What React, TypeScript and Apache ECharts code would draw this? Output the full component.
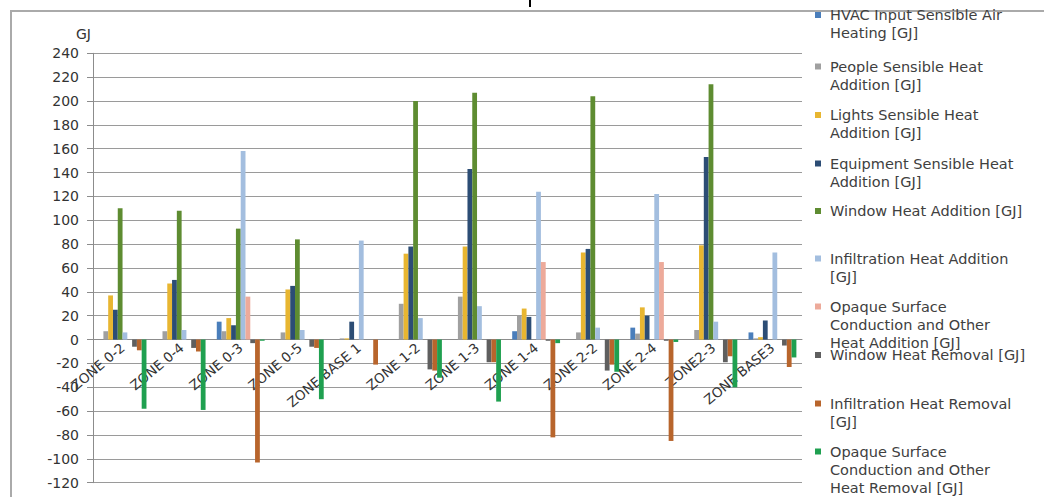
import React, { useEffect, useRef } from "react";
import * as echarts from "echarts";

const categories = [
  "ZONE 0-2", "ZONE 0-4", "ZONE 0-3", "ZONE 0-5", "ZONE BASE 1", "ZONE 1-2",
  "ZONE 1-3", "ZONE 1-4", "ZONE 2-2", "ZONE 2-4", "ZONE2-3", "ZONE BASE3",
];

const hvacHeating = [0, 0, 15, 0, 0, 0, 0, 7, 0, 10, 0, 6];
const peopleHeat = [7, 7, 7, 6, 1, 30, 36, 20, 6, 5, 8, 1];
const lightsHeat = [37, 47, 18, 42, 1, 72, 78, 26, 73, 27, 79, 2];
const equipmentHeat = [25, 50, 12, 45, 15, 78, 143, 19, 76, 20, 153, 16];
const windowAddition = [110, 108, 93, 84, 0, 200, 207, 0, 204, 0, 214, 0];
const infiltrationAddition = [6, 8, 158, 8, 83, 18, 28, 124, 10, 122, 15, 73];
const opaqueAddition = [0, 0, 36, 0, 0, 0, 0, 65, 0, 65, 0, 0];
const windowRemoval = [-6, -7, -3, -6, 0, -25, -19, -1, -26, -1, -19, -5];
const infiltrationRemoval = [-9, -10, -103, -7, -21, -26, -19, -82, -21, -85, -14, -23];
const opaqueRemoval = [-58, -59, -1, -50, 0, -32, -52, -3, -27, -2, -40, -15];

const seriesNames = [
  "HVAC Input Sensible Air Heating [GJ]",
  "People Sensible Heat Addition [GJ]",
  "Lights Sensible Heat Addition [GJ]",
  "Equipment Sensible Heat Addition [GJ]",
  "Window Heat Addition [GJ]",
  "Infiltration Heat Addition [GJ]",
  "Opaque Surface Conduction and Other Heat Addition [GJ]",
  "Window Heat Removal [GJ]",
  "Infiltration Heat Removal [GJ]",
  "Opaque Surface Conduction and Other Heat Removal [GJ]",
];

const legendLabels = [
  "HVAC Input Sensible Air\nHeating [GJ]",
  "People Sensible Heat\nAddition [GJ]",
  "Lights Sensible Heat\nAddition [GJ]",
  "Equipment Sensible Heat\nAddition [GJ]",
  "Window Heat Addition [GJ]",
  "Infiltration Heat Addition\n[GJ]",
  "Opaque Surface\nConduction and Other\nHeat Addition [GJ]",
  "Window Heat Removal [GJ]",
  "Infiltration Heat Removal\n[GJ]",
  "Opaque Surface\nConduction and Other\nHeat Removal [GJ]",
];

const seriesValues = [
  hvacHeating, peopleHeat, lightsHeat, equipmentHeat, windowAddition,
  infiltrationAddition, opaqueAddition, windowRemoval, infiltrationRemoval, opaqueRemoval,
];

const seriesColors = [
  "#4A7EBB", "#A0A0A0", "#E8B631", "#2C4D75", "#5E8C31",
  "#A3BEDF", "#EDAA9A", "#5F5F5F", "#B8652C", "#1FA050",
];

const FONT = "DejaVu Sans";
const LINE_H = 18;
const legendCenters = [15, 66.5, 115, 163.5, 211, 258.5, 306.5, 355, 403.5, 451.5];

const GRID_TOP = 53.3;
const GRID_BOTTOM = 14.3;
const Y_MIN = -120;
const Y_MAX = 240;

export default function App() {
  const ref = useRef<HTMLDivElement>(null);

  useEffect(() => {
    if (!ref.current) return;
    const chart = echarts.init(ref.current, undefined, { renderer: "svg" });

    const legends = seriesNames.map((name, i) => {
      const n = legendLabels[i].split("\n").length;
      const lead = "\n".repeat(n - 1);
      return {
        data: [name],
        orient: "vertical",
        left: 815,
        top: legendCenters[i] - ((2 * n - 1) * LINE_H) / 2,
        padding: 0,
        itemWidth: 6,
        itemHeight: 6,
        icon: "rect",
        selectedMode: false,
        formatter: () => lead + legendLabels[i],
        textStyle: {
          fontFamily: FONT,
          fontSize: 14.5,
          color: "#404040",
          lineHeight: LINE_H,
          padding: [0, 0, 0, 4],
        },
      };
    });

    // shift the category axis up to the zero line of the value axis
    const plotH = 497 - GRID_TOP - GRID_BOTTOM;
    const zeroOffset = (plotH * (0 - Y_MIN)) / (Y_MAX - Y_MIN);

    chart.setOption({
      animation: false,
      backgroundColor: "#ffffff",
      textStyle: { fontFamily: FONT },
      legend: legends,
      grid: {
        left: 93,
        right: 242,
        top: GRID_TOP,
        bottom: GRID_BOTTOM,
        containLabel: false,
        outerBoundsMode: "none",
      },
      xAxis: {
        type: "category",
        data: categories,
        offset: -zeroOffset,
        axisLine: { onZero: false, lineStyle: { color: "#8c8c8c", width: 1 } },
        axisTick: { show: false },
        axisLabel: {
          interval: 0,
          rotate: 40,
          margin: 6,
          fontFamily: FONT,
          fontSize: 13.5,
          color: "#333333",
        },
        splitLine: { show: false },
      },
      yAxis: {
        type: "value",
        min: Y_MIN,
        max: Y_MAX,
        interval: 20,
        name: "GJ",
        nameLocation: "end",
        nameGap: 12,
        nameTextStyle: {
          fontFamily: FONT,
          fontSize: 14,
          color: "#333333",
          align: "right",
          padding: [0, 2, 0, 0],
        },
        axisLine: { show: true, lineStyle: { color: "#8c8c8c", width: 1 } },
        axisTick: { show: true, length: 6, lineStyle: { color: "#8c8c8c" } },
        axisLabel: {
          margin: 14,
          fontFamily: FONT,
          fontSize: 14,
          color: "#333333",
        },
        splitLine: { show: true, lineStyle: { color: "#9a9a9a", width: 1 } },
      },
      graphic: [
        {
          type: "rect",
          silent: true,
          z: -10,
          shape: { x: 11, y: 11, width: 1200, height: 700 },
          style: { fill: "none", stroke: "#aaaaaa", lineWidth: 2 },
        },
        {
          type: "line",
          silent: true,
          shape: { x1: 530, y1: 0, x2: 530, y2: 7 },
          style: { stroke: "#000000", lineWidth: 2 },
        },
      ],
      series: seriesNames.map((name, i) => ({
        name,
        type: "bar",
        data: seriesValues[i],
        barGap: "0%",
        barCategoryGap: "19%",
        itemStyle: { color: seriesColors[i] },
      })),
    });

    return () => chart.dispose();
  }, []);

  return (
    <div
      ref={ref}
      style={{ position: "fixed", left: 0, top: 0, width: 1044, height: 497 }}
    />
  );
}
